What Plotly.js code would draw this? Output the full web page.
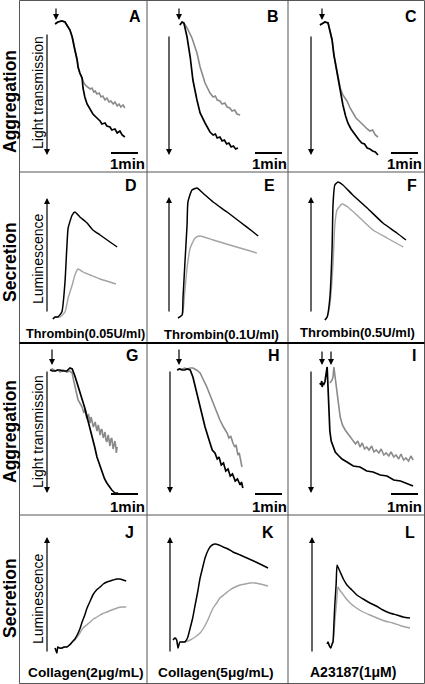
<!DOCTYPE html>
<html><head><meta charset="utf-8">
<script src="https://cdn.plot.ly/plotly-3.0.1.min.js"></script>
<style>html,body{margin:0;padding:0;background:#fff}#chart{width:425px;height:684px}</style>
</head><body><div id="chart"></div>
<script>
// ---------------- DATA (time in s, signal in arbitrary units) ----------------
const panelLetters = ['A','B','C','D','E','F','G','H','I','J','K','L'];
const rowLabels = ['Aggregation','Secretion','Aggregation','Secretion'];
const agonistLabels = ['Thrombin(0.05U/ml)','Thrombin(0.1U/ml)','Thrombin(0.5U/ml)','Collagen(2μg/mL)','Collagen(5μg/mL)','A23187(1μM)'];
const aggAxisLabel = 'Light transmission';
const secAxisLabel = 'Luminescence';
const scaleLabel = '1min';
const scaleSeconds = 60;

// A
const aBlackT = [78,84,93,100,104,111,116,120,122,127,129,133,138,140,144,149,156,162,171,178,182,189,193,200,204,211,216,222,227,233];
const aBlackY = [24,22,21,22,25,30,37,44,50,60,67,73,78,88,97,104,110,114,118,121,124,123,126,127,130,129,133,131,135,137];
const aGrayT = [78,84,93,100,104,111,116,120,122,127,129,133,138,142,147,151,156,160,164,167,171,176,180,184,189,193,198,202,207,211,216,220,224,229,233];
const aGrayY = [24,22,21,22,25,30,37,44,50,60,67,73,78,83,86,87,89,88,92,91,94,93,97,96,100,98,102,101,104,102,106,104,107,105,108];
// B
const bBlackT = [73,78,82,89,96,102,111,118,129,140,147,152,156,162,167,172,177,182,187,192,197,202];
const bBlackY = [25,22,23,37,57,80,100,113,123,132,135,134,138,137,141,140,144,143,147,146,149,148];
const bGrayT = [73,78,82,89,100,111,118,129,140,147,152,156,162,167,173,178,184,189,195,200,207];
const bGrayY = [25,22,23,28,38,53,67,83,93,97,96,100,101,104,103,107,108,111,110,114,115];
// C
const cBlackT = [71,82,89,93,98,102,109,116,122,128,133,140,147,153,158,164,170,176,182,188,194,200];
const cBlackY = [25,22,23,30,40,55,73,88,105,116,123,129,134,137,140,143,144,148,149,151,152,155];
const cGrayT = [71,82,89,93,98,102,109,116,122,131,138,144,151,158,164,170,176,182,188,194,200];
const cGrayY = [25,22,23,30,40,55,73,88,95,101,108,113,118,121,124,126,129,131,130,135,137];
// D
const dBlackT = [73,78,84,93,100,104,107,116,122,133,149,162,178,200,216];
const dBlackY = [24,26,26,31,61,95,115,128,131,126,120,113,108,101,96];
const dGrayT = [73,78,84,89,100,107,116,122,129,140,156,178,200,213];
const dGrayY = [24,26,26,26,31,45,58,68,74,71,68,64,61,59];
// E
const eBlackT = [69,78,80,84,89,91,100,111,124,147,178,207,236,247];
const eBlackY = [25,28,45,78,118,141,153,155,150,141,131,121,111,107];
const eGrayT = [69,78,80,84,89,96,107,118,147,184,222,244];
const eGrayY = [25,28,31,51,75,95,105,107,103,98,93,90];
// F
const fBlackT = [82,87,93,98,100,104,111,122,144,176,211,242,262];
const fBlackY = [23,26,45,95,138,158,161,158,148,135,120,110,103];
const fGrayT = [82,87,93,100,104,109,120,133,160,189,220,256];
const fGrayY = [23,26,38,78,118,133,139,136,125,113,105,96];
// G
const gBlackT = [67,72,78,84,89,95,100,104,111,116,122,127,133,138,144,149,155,160,166,171,177,182,188,193,199,204,211,218];
const gBlackY = [27,28,28,27,27,28,28,28,25,26,33,40,48,57,65,74,84,94,104,114,122,130,136,140,144,147,150,150];
const gGrayT = [67,72,78,84,89,95,100,104,110,116,119,122,125,129,133,138,142,145,147,149,152,156,158,160,163,167,169,171,174,178,180,182,185,189,191,193,196,200,202,204,207,211,213,214,216];
const gGrayY = [27,26,28,27,29,27,28,29,28,30,37,44,50,57,60,64,70,66,73,76,71,80,74,77,84,79,86,88,82,92,87,86,95,89,97,99,92,103,96,95,106,98,104,110,104];
// H
const hBlackT = [67,72,78,84,89,96,102,111,118,129,140,145,151,156,160,165,170,175,180,185,190,196,201,207,210,213];
const hBlackY = [27,26,27,27,26,27,34,50,64,84,100,107,110,116,114,122,120,128,126,133,131,138,136,142,139,145];
const hGrayT = [67,72,78,84,89,96,102,110,118,126,133,140,147,155,162,170,178,182,186,191,195,198,202,205,208,211];
const hGrayY = [27,26,26,25,26,25,25,27,30,37,44,52,60,69,77,84,90,95,93,100,104,102,112,110,118,124];
// I
const iBlackT = [71,73,75,76,78,80,82,84,87,89,91,93,96,100,105,111,120,131,145,160,175,189,205,220,235,250,265,278];
const iBlackY = [40,42,38,44,40,41,39,30,24,45,70,88,98,104,109,112,116,119,123,124,128,129,132,133,137,138,141,143];
const iGrayT = [93,96,98,100,102,105,109,112,116,121,127,135,144,150,155,160,165,170,175,180,186,191,196,202,207,213,218,224,229,235,240,246,251,257,262,268,273,278];
const iGrayY = [40,38,37,34,24,35,47,60,74,82,87,92,97,101,98,104,100,106,104,107,103,109,107,110,106,112,110,113,109,114,112,116,111,117,115,118,113,117];
// J
const jBlackT = [78,82,84,88,93,98,104,110,116,122,127,133,138,144,149,156,162,170,178,185,193,200,207,215,222,229,236];
const jBlackY = [36,31,37,36,36,37,37,39,42,45,49,55,62,69,76,83,89,94,97,100,102,103,104,105,105,104,103];
const jGrayT = [78,82,84,88,93,98,104,110,116,122,127,133,140,148,156,163,171,182,193,204,216,226,236];
const jGrayY = [36,31,37,36,36,37,37,39,42,44,47,51,56,59,62,65,67,70,72,74,76,77,77];
// K
const kBlackT = [58,62,66,69,73,78,84,90,96,102,107,113,118,124,129,135,140,145,151,160,169,180,191,207,222,237,251,269];
const kBlackY = [44,46,44,36,42,42,42,46,56,67,79,93,106,117,126,133,137,139,140,139,137,135,132,129,126,123,120,116];
const kGrayT = [58,62,66,69,73,78,84,96,107,118,126,133,140,147,155,162,173,184,196,207,218,229,240,251,260,269];
const kGrayY = [44,46,44,36,42,42,42,44,47,51,56,62,69,76,81,86,90,94,97,99,100,101,101,100,99,98];
// L
const lBlackT = [87,89,92,95,98,100,102,104,107,109,112,116,123,131,142,153,167,182,196,211,226,242,256,271];
const lBlackY = [40,42,38,36,40,42,60,79,100,119,116,112,105,99,94,89,85,81,78,74,71,69,67,66];
const lGrayT = [87,89,92,95,98,100,102,104,108,111,115,120,128,138,152,167,182,198,215,233,252,271];
const lGrayY = [40,42,38,36,40,42,50,62,82,97,94,91,86,81,76,72,69,66,63,61,58,56];

// ---------------- LAYOUT ----------------
const W = 425, H = 684;
const FONT = '"Liberation Sans", Arial, Helvetica, sans-serif';
const SEC_PER_PX = 60 / 27;
const colEdges = [[20,147],[147,288],[288,425]];
const rowEdges = [[0,172],[172,343],[343,515],[515,684]];
const rowKind = ['agg','sec','agg','sec'];
const X = p => p / W, Y = p => 1 - p / H;

const series = [
  [aBlackT,aBlackY,aGrayT,aGrayY],[bBlackT,bBlackY,bGrayT,bGrayY],[cBlackT,cBlackY,cGrayT,cGrayY],
  [dBlackT,dBlackY,dGrayT,dGrayY],[eBlackT,eBlackY,eGrayT,eGrayY],[fBlackT,fBlackY,fGrayT,fGrayY],
  [gBlackT,gBlackY,gGrayT,gGrayY],[hBlackT,hBlackY,hGrayT,hGrayY],[iBlackT,iBlackY,iGrayT,iGrayY],
  [jBlackT,jBlackY,jGrayT,jGrayY],[kBlackT,kBlackY,kGrayT,kGrayY],[lBlackT,lBlackY,lGrayT,lGrayY]
];

const layout = {width:W, height:H, margin:{l:0,r:0,t:0,b:0}, paper_bgcolor:'#fff', plot_bgcolor:'rgba(0,0,0,0)',
  showlegend:false, shapes:[], annotations:[], font:{family:FONT}};
const traces = [];

function txt(s, x, y, size, bold, angle){
  layout.annotations.push({text: bold ? '<b>'+s+'</b>' : s, x:X(x), y:Y(y), xref:'paper', yref:'paper',
    showarrow:false, font:{family:FONT, size:size, color:'#000'}, textangle:angle||0, xanchor:'center', yanchor:'middle'});
}
function arrow(x, tip, tail){
  layout.annotations.push({x:X(x), y:Y(tip), xref:'paper', yref:'paper', ax:0, ay:tail-tip, axref:'pixel', ayref:'pixel',
    text:'', showarrow:true, arrowhead:2, arrowsize:1, arrowwidth:1.2, arrowcolor:'#000', standoff:0});
}

// per-panel decoration positions (px)
const letterPos = [[134.5,16.5],[273,16],[411,16],[131,186],[269,186],[412,186],[132,355],[274,355],[414,355],[129,532],[268,532],[410,532]];
const sigArrowX = [47,169,311,47,169,311,47,170,311,47,170,312];
const aggArrowEnds = {0:[33,155],1:[35,155],2:[35,155],6:[370,493],7:[370,493],8:[370,493]};
const secArrowEnds = {3:[313,198],4:[313,197],5:[313,197],9:[653,537],10:[653,537],11:[653,537]};
const agonistArrows = {0:[[56,7,20]],1:[[179,7,20]],2:[[322,7,20]],6:[[52,348,365]],7:[[179,348,365]],8:[[322,350,365],[331,350,365]]};
const scaleStartPx = [111,255,391];
const scaleTextX = [127,269,404];
const labelPos = [[85,334,12.7],[221,335,13],[357.5,332,13],[86,672,13.7],[216,672,13.7],[352.5,672,14]];

series.forEach((s, i) => {
  const n = i + 1, sfx = n > 1 ? n : '';
  const col = i % 3, row = Math.floor(i / 3);
  const [l, r] = colEdges[col];
  const [t, b] = rowEdges[row];
  const agg = rowKind[row] === 'agg';
  layout['xaxis'+sfx] = {domain:[X(l), X(r)], range:[0, (r-l)*SEC_PER_PX], visible:false, fixedrange:true, anchor:'y'+sfx};
  layout['yaxis'+sfx] = {domain:[Y(b), Y(t)], range: agg ? [b-t, 0] : [0, b-t], visible:false, fixedrange:true, anchor:'x'+sfx};
  traces.push({x:s[2], y:s[3], xaxis:'x'+sfx, yaxis:'y'+sfx, mode:'lines', hoverinfo:'skip',
    line:{color: agg ? '#8a8a8a' : '#a3a3a3', width: agg ? 1.6 : 1.4, shape: agg ? 'linear' : 'spline', smoothing:0.5}});
  traces.push({x:s[0], y:s[1], xaxis:'x'+sfx, yaxis:'y'+sfx, mode:'lines', hoverinfo:'skip',
    line:{color:'#000', width: agg ? 1.7 : 1.5, shape: agg ? 'linear' : 'spline', smoothing:0.5}});

  txt(panelLetters[i], letterPos[i][0], letterPos[i][1], 16, true);

  if (agg) {
    const e = aggArrowEnds[i];
    arrow(sigArrowX[i], e[1], e[0]);
    (agonistArrows[i] || []).forEach(a => arrow(a[0], a[2], a[1]));
    const barY = row === 0 ? 153 : 494;
    const x0 = (scaleStartPx[col] - l) * SEC_PER_PX;
    layout.shapes.push({type:'line', xref:'x'+sfx, yref:'paper', x0:x0, x1:x0+scaleSeconds, y0:Y(barY), y1:Y(barY), line:{color:'#000', width:2}});
    txt(scaleLabel, scaleTextX[col], row === 0 ? 163 : 506, 15, true);
  } else {
    const e = secArrowEnds[i];
    arrow(sigArrowX[i], e[1], e[0]);
    const li = (row === 1 ? 0 : 3) + col;
    txt(agonistLabels[li], labelPos[li][0], labelPos[li][1], labelPos[li][2], true);
  }
});

// rotated axis descriptions in first column
txt(aggAxisLabel, 38, 93, 14, false, -90);
txt(aggAxisLabel, 38, 432, 14, false, -90);
txt(secAxisLabel, 38, 259, 14, false, -90);
txt(secAxisLabel, 38, 599, 14, false, -90);
// row labels
[102, 262, 432, 598].forEach((py, r) => txt(rowLabels[r], 10, py, 17.5, true, -90));

// panel borders
const bc = '#555';
layout.shapes.push({type:'rect', xref:'paper', yref:'paper', x0:X(19.5), x1:X(424.5), y0:Y(683.5), y1:Y(0.5), line:{color:bc, width:1}});
[147, 288].forEach(px => layout.shapes.push({type:'line', xref:'paper', yref:'paper', x0:X(px), x1:X(px), y0:Y(684), y1:Y(0), line:{color:bc, width:1}}));
[172, 515].forEach(py => layout.shapes.push({type:'line', xref:'paper', yref:'paper', x0:X(19.5), x1:X(424.5), y0:Y(py), y1:Y(py), line:{color:bc, width:1}}));
layout.shapes.push({type:'line', xref:'paper', yref:'paper', x0:X(19.5), x1:X(424.5), y0:Y(343), y1:Y(343), line:{color:'#000', width:2}});

Plotly.newPlot('chart', traces, layout, {staticPlot:true, displayModeBar:false});
</script>
</body></html>
